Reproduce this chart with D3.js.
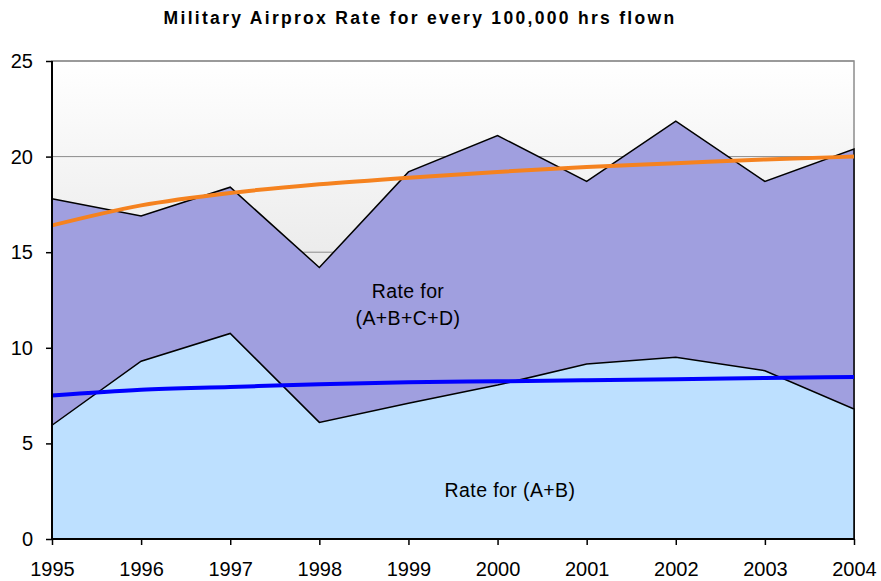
<!DOCTYPE html>
<html>
<head>
<meta charset="utf-8">
<script src="https://cdn.jsdelivr.net/npm/d3@7"></script>
<style>
  body { margin: 0; background: #fff; }
  text { font-family: "Liberation Sans", Arial, sans-serif; }
</style>
</head>
<body>
<div id="chart"></div>
<script>
var years = [1995, 1996, 1997, 1998, 1999, 2000, 2001, 2002, 2003, 2004];
var rateAll = [17.8, 16.9, 18.4, 14.2, 19.2, 21.1, 18.7, 21.85, 18.7, 20.4];   // A+B+C+D
var rateAB  = [5.95, 9.3, 10.75, 6.1, 7.1, 8.05, 9.15, 9.5, 8.8, 6.8];       // A+B
var trendAll = [16.4, 17.45, 18.1, 18.55, 18.9, 19.2, 19.45, 19.65, 19.85, 20.0];
var trendAB  = [7.5, 7.8, 7.95, 8.1, 8.2, 8.25, 8.3, 8.35, 8.42, 8.47];
var yTicks = [0, 5, 10, 15, 20, 25];

var width = 881, height = 581;
var pLeft = 52, pRight = 854, pTop = 61, pBottom = 539;

var svg = d3.select("#chart").append("svg")
    .attr("width", width)
    .attr("height", height);

var x = d3.scaleLinear().domain([1995, 2004]).range([pLeft, pRight]);
var y = d3.scaleLinear().domain([0, 25]).range([pBottom, pTop]);

// background gradient
var grad = svg.append("defs").append("linearGradient")
    .attr("id", "bg").attr("x1", 0).attr("y1", 0).attr("x2", 0).attr("y2", 1);
grad.append("stop").attr("offset", "0%").attr("stop-color", "#ffffff");
grad.append("stop").attr("offset", "100%").attr("stop-color", "#cfcfcf");

svg.append("rect")
    .attr("x", pLeft).attr("y", pTop)
    .attr("width", pRight - pLeft).attr("height", pBottom - pTop)
    .attr("fill", "url(#bg)")
    .attr("stroke", "#8c8c8c").attr("stroke-width", 1.5);

// gridlines
svg.selectAll("line.grid")
    .data(yTicks.filter(function(d) { return d > 0; }))
    .enter().append("line")
    .attr("class", "grid")
    .attr("x1", pLeft).attr("x2", pRight)
    .attr("y1", function(d) { return y(d); })
    .attr("y2", function(d) { return y(d); })
    .attr("stroke", "#8c8c8c").attr("stroke-width", 1);

var area = d3.area()
    .x(function(d, i) { return x(years[i]); })
    .y0(pBottom)
    .y1(function(d) { return y(d); });

svg.append("path")
    .datum(rateAll)
    .attr("d", area)
    .attr("fill", "#a09fdf")
    .attr("stroke", "#000").attr("stroke-width", 1.5);

svg.append("path")
    .datum(rateAB)
    .attr("d", area)
    .attr("fill", "#bde0ff")
    .attr("stroke", "#000").attr("stroke-width", 1.5);

var trendLine = d3.line()
    .x(function(d, i) { return x(years[i]); })
    .y(function(d) { return y(d); })
    .curve(d3.curveMonotoneX);

svg.append("path")
    .datum(trendAll)
    .attr("d", trendLine)
    .attr("fill", "none")
    .attr("stroke", "#f5821f").attr("stroke-width", 4);

svg.append("path")
    .datum(trendAB)
    .attr("d", trendLine)
    .attr("fill", "none")
    .attr("stroke", "#0000ff").attr("stroke-width", 4);

// axes
var yAxis = svg.append("g")
    .attr("transform", "translate(" + pLeft + ",0)")
    .call(d3.axisLeft(y).tickValues(yTicks).tickSize(6).tickPadding(13).tickFormat(d3.format("d")));
var xAxis = svg.append("g")
    .attr("transform", "translate(0," + pBottom + ")")
    .call(d3.axisBottom(x).tickValues(years).tickSize(6).tickPadding(17).tickFormat(d3.format("d")));

[yAxis, xAxis].forEach(function(g) {
  g.select(".domain").attr("stroke", "#000").attr("stroke-width", 2);
  g.selectAll(".tick line").attr("stroke", "#000").attr("stroke-width", 1.5);
  g.selectAll(".tick text")
    .attr("fill", "#000")
    .style("font-family", "'Liberation Sans', Arial, sans-serif")
    .style("font-size", "20px");
});
xAxis.select(".domain").attr("d", "M" + pLeft + ",0H" + pRight);
yAxis.select(".domain").attr("d", "M0," + pBottom + "V" + pTop);

// labels
svg.append("text")
    .attr("x", 420).attr("y", 24)
    .attr("text-anchor", "middle")
    .style("font-size", "17.5px").style("font-weight", "bold")
    .style("letter-spacing", "2.3px")
    .text("Military Airprox Rate for every 100,000 hrs flown");

svg.append("text")
    .attr("x", 408).attr("y", 298)
    .attr("text-anchor", "middle")
    .style("font-size", "19.5px")
    .style("letter-spacing", "0.4px")
    .text("Rate for");
svg.append("text")
    .attr("x", 408).attr("y", 325)
    .attr("text-anchor", "middle")
    .style("font-size", "19.5px")
    .style("letter-spacing", "0.4px")
    .text("(A+B+C+D)");
svg.append("text")
    .attr("x", 510).attr("y", 497)
    .attr("text-anchor", "middle")
    .style("font-size", "19.5px")
    .style("letter-spacing", "0.4px")
    .text("Rate for (A+B)");
</script>
</body>
</html>
